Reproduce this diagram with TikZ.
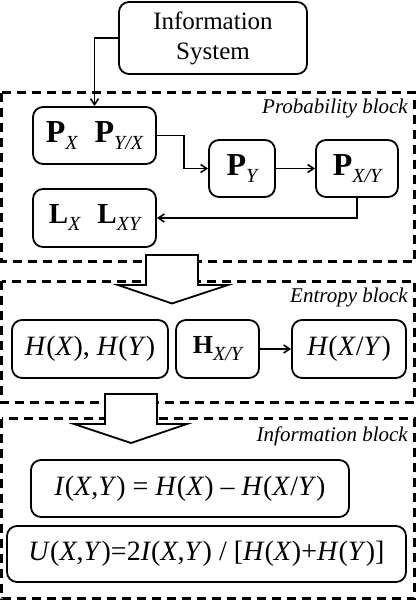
\documentclass[tikz,border=0pt]{standalone}
\usepackage{fontspec}
\setmainfont{Liberation Serif}
\usetikzlibrary{arrows.meta}
\newcommand{\ssub}[1]{\raisebox{-7pt}{\normalfont\fontsize{20}{20}\selectfont\itshape #1}}
\tikzset{
  box/.style={draw,shape=rectangle,rounded corners=10pt,line width=1.8pt,inner sep=0pt},
  block/.style={draw,line width=3pt,dash pattern=on 9pt off 6pt},
  blocklabel/.style={anchor=base east,inner sep=0pt,font=\fontsize{21}{21}\selectfont\itshape},
  flow/.style={-{Straight Barb[length=6pt,width=8pt]},line width=1.6pt},
  bigarrow/.style={draw,fill=white,line width=1.8pt},
  pfont/.style={font=\fontsize{32}{32}\selectfont\bfseries},
  mfont/.style={font=\fontsize{28}{28}\selectfont}
}
\begin{document}
\begin{tikzpicture}[x=1pt,y=-1pt]
\useasboundingbox (0,0) rectangle (416,600);

% dashed blocks
\draw[block] (1.5,92.5) rectangle (414.5,261.5);
\draw[block] (1.5,281) rectangle (414.5,402.5);
\draw[block] (1.5,418.5) rectangle (414.5,598.5);
\node[blocklabel](problabel) at (408,113.5){Probability block};
\node[blocklabel](entlabel) at (408,302.5){Entropy block};
\node[blocklabel](inflabel) at (408,441.5){Information block};

% block arrows
\draw[bigarrow] (146,255) -- (146,285) -- (118,285) -- (172,303.5) -- (228,285) -- (198,285) -- (198,255) -- cycle;
\draw[bigarrow] (105,394) -- (105,424) -- (74,424) -- (131,443) -- (187,424) -- (157,424) -- (157,394) -- cycle;

\node[box,minimum width=188pt,minimum height=72pt,align=center,font=\fontsize{25}{30}\selectfont](info) at (213,38){Information\\System};

% probability block
\node[box,pfont,minimum width=123pt,minimum height=57pt](pxy) at (94.5,135.5){P\ssub{X}\hspace{17pt}P\ssub{Y/X}};
\node[box,pfont,minimum width=66pt,minimum height=57pt](py) at (242,168.5){P\ssub{Y}};
\node[box,pfont,minimum width=82pt,minimum height=57pt](pxgy) at (357,168.5){P\ssub{X/Y}};
\node[box,minimum width=123pt,minimum height=58pt,font=\fontsize{29}{29}\selectfont\bfseries](lx) at (94.5,218){L\ssub{X}\hspace{17pt}L\ssub{XY}};
\draw[flow] (info.west) -| (pxy.north);
\draw[flow] (pxy.east) -- ++(27,0) |- (py.west);
\draw[flow] (py) -- (pxgy);
\draw[flow] (pxgy.south) |- (lx.east);

% entropy block
\node[box,mfont,minimum width=156pt,minimum height=58pt](hxhy) at (90,349){\textit{H}(\textit{X}), \textit{H}(\textit{Y})};
\node[box,minimum width=83pt,minimum height=58pt,font=\fontsize{26}{26}\selectfont\bfseries](hxgy) at (217.5,349){H\ssub{X/Y}};
\node[box,mfont,minimum width=114pt,minimum height=58pt](hcond) at (349,349){\textit{H}(\textit{X}/\textit{Y})};
\draw[flow] (hxgy) -- (hcond);

% information block
\node[box,mfont,minimum width=318pt,minimum height=57pt](ixy) at (190,488.5){\textit{I}(\textit{X},\textit{Y}) = \textit{H}(\textit{X}) -- \textit{H}(\textit{X}/\textit{Y})};
\node[box,mfont,minimum width=399pt,minimum height=56pt](uxy) at (206.5,554){\textit{U}(\textit{X},\textit{Y})=2\textit{I}(\textit{X},\textit{Y}) / [\textit{H}(\textit{X})+\textit{H}(\textit{Y})]};
\end{tikzpicture}
\end{document}
